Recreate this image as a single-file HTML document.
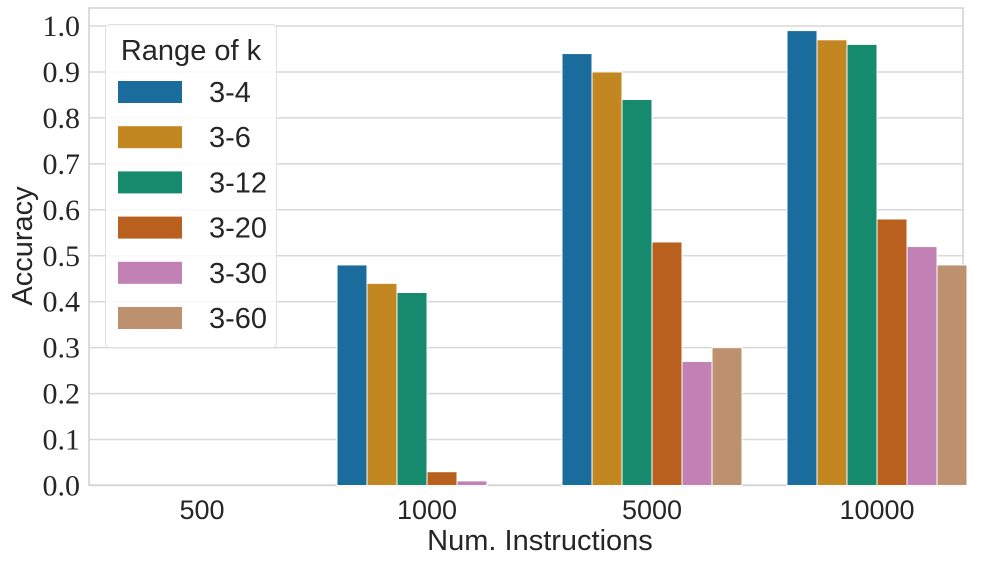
<!DOCTYPE html>
<html><head><meta charset="utf-8"><style>
body{margin:0;background:#fff;}
svg text{fill:#262626;}
.sans{font-family:"Liberation Sans",sans-serif;}
.serif{font-family:"Liberation Serif",serif;}
</style></head><body>
<svg id="chart" width="997" height="564" xmlns="http://www.w3.org/2000/svg">
<rect x="89" y="8" width="874" height="477" fill="#fff" stroke="#d0d0d0" stroke-width="1.5"/>
<g id="grid"></g>
<g id="bars"></g>
<g id="yticks"></g>
<g id="xticks"></g>
<text x="540" y="550" text-anchor="middle" font-size="29" class="sans">Num. Instructions</text>
<text x="0" y="0" transform="translate(32,246) rotate(-90)" text-anchor="middle" font-size="29" class="sans">Accuracy</text>
<g>
<rect x="105.5" y="24.5" width="171" height="323" rx="4" fill="#fff" fill-opacity="0.85" stroke="#e0e0e0"/>
<text x="191" y="60" text-anchor="middle" font-size="29" class="sans">Range of k</text>
<g id="legend-entries"></g>
</g>
</svg>
<script>
const categories = ["500","1000","5000","10000"];
const seriesNames = ["3-4","3-6","3-12","3-20","3-30","3-60"];
const s34 = [0,0.48,0.94,0.99];
const s36 = [0,0.44,0.90,0.97];
const s312 = [0,0.42,0.84,0.96];
const s320 = [0,0.03,0.53,0.58];
const s330 = [0,0.01,0.27,0.52];
const s360 = [0,0,0.30,0.48];
const yTicks = ["0.0","0.1","0.2","0.3","0.4","0.5","0.6","0.7","0.8","0.9","1.0"];
const colors = ["#196c9c","#c28721","#168a6c","#b9601f","#c181b4","#bd906f"];
const series = [s34,s36,s312,s320,s330,s360];
const NS="http://www.w3.org/2000/svg";
function y(v){return 485.5 - v*459.5;}
function xc(i){return 202 + i*225;}
function mk(t,a){const e=document.createElementNS(NS,t);for(const k in a)e.setAttribute(k,a[k]);return e;}
const grid=document.getElementById('grid'),yt=document.getElementById('yticks');
yTicks.forEach(t=>{const v=parseFloat(t);
 const l=mk('line',{x1:89,x2:963,y1:y(v),y2:y(v),stroke:'#d8d8d8','stroke-width':1.5});
 
 
 grid.appendChild(l);
 const tx=mk('text',{x:80,y:y(v)+10,'text-anchor':'end','font-size':30,class:'serif'});
 tx.textContent=t;
 
 
 yt.appendChild(tx);});
const xt=document.getElementById('xticks');
categories.forEach((c,i)=>{const tx=mk('text',{x:xc(i),y:519,'text-anchor':'middle','font-size':27,class:'sans'});
 tx.textContent=c;
 
 
 xt.appendChild(tx);});
const bars=document.getElementById('bars');
const bw=30;
series.forEach((s,j)=>{s.forEach((v,i)=>{
 const x=xc(i)-90+j*bw;
 const r=mk('rect',{x:x,y:y(v),width:bw,height:Math.max(0,y(0)-y(v)),fill:colors[j],stroke:'#fff','stroke-width':1});
 
 
 bars.appendChild(r);});});
const lg=document.getElementById('legend-entries');
seriesNames.forEach((n,j)=>{const cy=92+j*45.2;
 const r=mk('rect',{x:118,y:cy-11,width:64,height:22,fill:colors[j]});
 
 
 lg.appendChild(r);
 const t=mk('text',{x:209,y:cy+10,'font-size':29,class:'sans'});
 t.textContent=n;
 
 
 lg.appendChild(t);});
</script>
</body></html>
